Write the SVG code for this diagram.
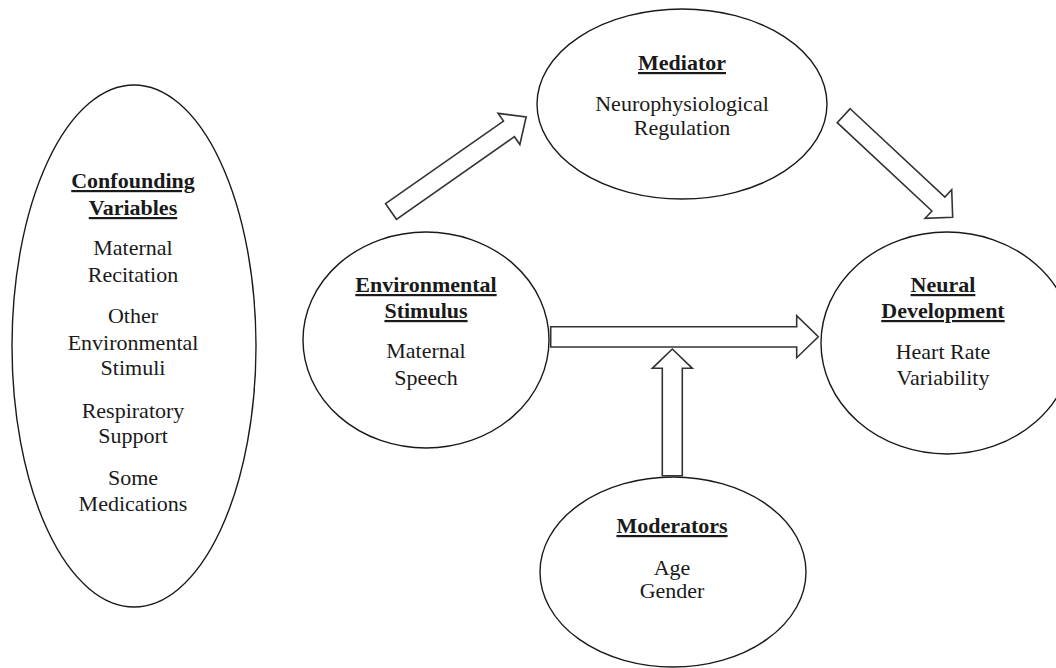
<svg xmlns="http://www.w3.org/2000/svg" width="1056" height="668" viewBox="0 0 1056 668">
<style>
.node ellipse{fill:#fff;stroke:#1a1a1a;stroke-width:1.4}
.arr{fill:#fff;stroke:#333;stroke-width:1.6;stroke-linejoin:miter}
text{font-family:"Liberation Serif","Times New Roman",serif;font-size:22px;fill:#1a1a1a;text-anchor:middle}
.t{font-weight:bold;text-decoration:underline}
</style>
<rect width="1056" height="668" fill="#fff"/>
<g id="confounding" class="node">
<ellipse cx="134" cy="346" rx="122" ry="261"/>
<text x="133" y="188" class="t">Confounding</text>
<text x="133" y="215" class="t">Variables</text>
<text x="133" y="255">Maternal</text>
<text x="133" y="282">Recitation</text>
<text x="133" y="323">Other</text>
<text x="133" y="350">Environmental</text>
<text x="133" y="375">Stimuli</text>
<text x="133" y="418">Respiratory</text>
<text x="133" y="443">Support</text>
<text x="133" y="485">Some</text>
<text x="133" y="511">Medications</text>
</g>
<g id="mediator" class="node">
<ellipse cx="682" cy="104" rx="145" ry="95"/>
<text x="682" y="70" class="t">Mediator</text>
<text x="682" y="111">Neurophysiological</text>
<text x="682" y="135">Regulation</text>
</g>
<g id="environmental" class="node">
<ellipse cx="426" cy="340" rx="123" ry="108"/>
<text x="426" y="292" class="t">Environmental</text>
<text x="426" y="318" class="t">Stimulus</text>
<text x="426" y="358">Maternal</text>
<text x="426" y="385">Speech</text>
</g>
<g id="neural" class="node">
<ellipse cx="947" cy="343" rx="126" ry="111"/>
<text x="943" y="292" class="t">Neural</text>
<text x="943" y="318" class="t">Development</text>
<text x="943" y="359">Heart Rate</text>
<text x="943" y="385">Variability</text>
</g>
<g id="moderators" class="node">
<ellipse cx="673" cy="572" rx="133" ry="95"/>
<text x="672" y="533" class="t">Moderators</text>
<text x="672" y="575">Age</text>
<text x="672" y="598">Gender</text>
</g>
<g id="connectors">
<path class="arr" transform="translate(391,211.5) rotate(-35)" d="M0,-9.5 L144,-9.5 L144,-19 L165,0 L144,19 L144,9.5 L0,9.5 Z"/>
<path class="arr" transform="translate(843.7,115.7) rotate(43)" d="M0,-9.5 L129.5,-9.5 L129.5,-19.5 L149,0 L129.5,19.5 L129.5,9.5 L0,9.5 Z"/>
<path class="arr" d="M550.7,326.7 L796.7,326.7 L796.7,315.7 L818.3,336.8 L796.7,357.7 L796.7,347 L550.7,347 Z"/>
<path class="arr" d="M662.3,475.7 L662.3,368.3 L652.3,368.3 L672.3,349 L692.3,368.3 L682.3,368.3 L682.3,475.7 Z"/>
</g>
</svg>
